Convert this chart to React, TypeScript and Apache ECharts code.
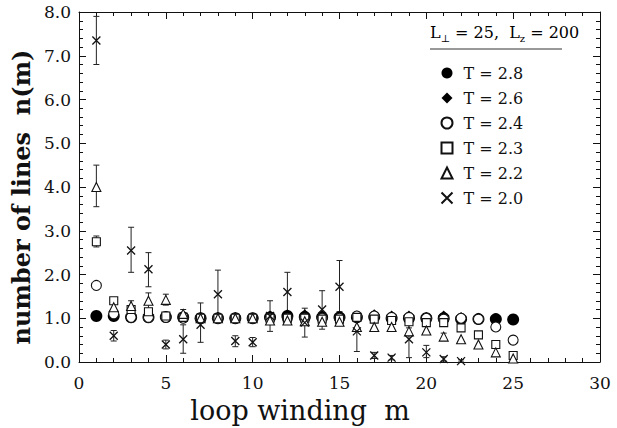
import React, { useEffect, useRef } from "react";
import * as echarts from "echarts";

const mValues = [1, 2, 3, 4, 5, 6, 7, 8, 9, 10, 11, 12, 13, 14, 15, 16, 17, 18, 19, 20, 21, 22, 23, 24, 25];

const t28 = [1.05, 1.05, 1.02, 1.02, 1.03, 1.02, 1.0, 1.0, 1.0, 1.0, 1.02, 1.05, 1.03, 1.02, 1.02, 1.02, 1.03, 1.0, 1.0, 1.0, 1.0, 0.98, 0.98, 0.98, 0.97];
const t26 = [1.05, 1.05, 1.03, 1.03, 1.03, 1.03, 1.02, 1.02, 1.02, 1.0, 1.05, 1.08, 1.08, 1.05, 1.03, 1.05, 1.08, 1.05, 1.05, 1.02, 1.05, 1.02, 1.0];
const t24 = [1.75, 1.1, 1.02, 1.02, 1.02, 1.0, 1.0, 1.0, 1.0, 1.0, 1.0, 1.0, 1.0, 1.0, 1.0, 1.05, 1.05, 1.02, 1.02, 1.0, 0.98, 1.0, 0.98, 0.8, 0.5];
const t23 = [2.75, 1.4, 1.2, 1.15, 1.05, 1.02, 1.0, 1.0, 1.0, 1.0, 1.0, 1.0, 1.0, 0.98, 0.98, 1.02, 0.98, 0.95, 0.92, 0.9, 0.9, 0.78, 0.62, 0.4, 0.15];
const t22 = [4.0, 1.25, 1.28, 1.4, 1.42, 1.1, 1.0, 1.0, 1.0, 1.0, 0.95, 0.95, 0.93, 0.92, 0.92, 0.8, 0.8, 0.8, 0.7, 0.72, 0.58, 0.52, 0.4, 0.22, 0.08];
const t20 = [7.35, 0.6, 2.55, 2.12, 0.4, 0.52, 0.85, 1.55, 0.48, 0.45, 1.05, 1.6, 0.9, 1.2, 1.72, 0.7, 0.15, 0.1, 0.52, 0.22, 0.07, 0.02];

const t20ErrLow = [6.8, 0.48, 2.05, 1.72, 0.3, 0.2, 0.45, 1.05, 0.35, 0.35, 0.7, 1.05, 0.57, 0.75, 1.15, 0.24, 0.08, 0.05, 0.1, 0.1, 0.02, 0.0];
const t20ErrHigh = [7.9, 0.72, 3.08, 2.5, 0.5, 0.85, 1.35, 2.1, 0.6, 0.56, 1.4, 2.05, 1.23, 1.63, 2.32, 1.12, 0.22, 0.15, 0.85, 0.38, 0.12, 0.05];

const t22ErrM = [1, 3, 4, 5, 6, 19, 21];
const t22ErrLow = [3.55, 1.15, 1.2, 1.3, 1.0, 0.62, 0.5];
const t22ErrHigh = [4.5, 1.4, 1.58, 1.55, 1.2, 0.78, 0.66];

const t23ErrM = [1];
const t23ErrLow = [2.63];
const t23ErrHigh = [2.88];

const xTicks = [0, 5, 10, 15, 20, 25, 30];
const yTicks = [0, 1, 2, 3, 4, 5, 6, 7, 8];

const seriesNames = ["T = 2.8", "T = 2.6", "T = 2.4", "T = 2.3", "T = 2.2", "T = 2.0"];

const FONT = "'DejaVu Serif', 'Liberation Serif', serif";
const CROSS = "path://M0,0L10,10M0,10L10,0";

function pairs(vals: number[]) {
  return vals.map((v, i) => [mValues[i], v]);
}

export default function App() {
  const ref = useRef<HTMLDivElement>(null);
  useEffect(() => {
    if (!ref.current) return;
    const chart = echarts.init(ref.current, undefined, { renderer: "svg" });

    const errData: number[][] = [];
    t20ErrLow.forEach((lo, i) => errData.push([mValues[i], lo, t20ErrHigh[i]]));
    t22ErrM.forEach((m, i) => errData.push([m, t22ErrLow[i], t22ErrHigh[i]]));
    t23ErrM.forEach((m, i) => errData.push([m, t23ErrLow[i], t23ErrHigh[i]]));

    const axisCommon = {
      min: 0,
      axisLine: { show: true, onZero: false, lineStyle: { color: "#111", width: 1 } },
      axisTick: { show: true, inside: true, length: 7, lineStyle: { color: "#111" } },
      minorTick: { show: true, splitNumber: 5, length: 4, lineStyle: { color: "#111" } },
      splitLine: { show: false },
    };

    const openStyle = { color: "#fff", borderColor: "#111", borderWidth: 1.1, opacity: 1 };

    chart.setOption({
      animation: false,
      backgroundColor: "#fff",
      grid: { left: 79, right: 17, top: 12, bottom: 66 },
      xAxis: [
        {
          ...axisCommon,
          type: "value",
          max: 30,
          interval: 5,
          position: "bottom",
          axisLabel: {
            fontFamily: FONT,
            fontSize: 17,
            color: "#111",
            margin: 12,
            formatter: (v: number) => (xTicks.includes(v) ? String(v) : ""),
          },
        },
        {
          ...axisCommon,
          type: "value",
          max: 30,
          interval: 5,
          position: "top",
          axisLabel: { show: false },
        },
      ],
      yAxis: [
        {
          ...axisCommon,
          type: "value",
          max: 8,
          interval: 1,
          position: "left",
          name: "number of lines  n(m)",
          nameLocation: "middle",
          nameGap: 46,
          nameTextStyle: { fontFamily: FONT, fontSize: 24, fontWeight: "bold", color: "#111", padding: [0, 20, 0, 0] },
          axisLabel: {
            fontFamily: FONT,
            fontSize: 17,
            color: "#111",
            margin: 8,
            formatter: (v: number) => (yTicks.includes(v) ? v.toFixed(1) : ""),
          },
        },
        {
          ...axisCommon,
          type: "value",
          max: 8,
          interval: 1,
          position: "right",
          axisLabel: { show: false },
        },
      ],
      legend: {
        data: seriesNames,
        orient: "vertical",
        left: 434,
        top: 60,
        itemWidth: 11,
        itemHeight: 11,
        itemGap: 9,
        textStyle: { fontFamily: FONT, fontSize: 16, color: "#111", padding: [0, 0, 0, 6] },
        selectedMode: false,
      },
      graphic: [
        {
          type: "text",
          x: 300,
          y: 410,
          style: {
            text: "loop winding  m",
            fontFamily: FONT,
            fontSize: 27,
            fill: "#111",
            align: "center",
            verticalAlign: "middle",
          },
        },
        {
          type: "text",
          left: 430,
          top: 24,
          style: {
            text: "{a|L}{s|⊥}{a| = 25,  L}{s|z}{a| = 200}",
            rich: {
              a: { fontFamily: FONT, fontSize: 16, color: "#111", lineHeight: 22, verticalAlign: "middle" },
              s: { fontFamily: FONT, fontSize: 10, color: "#111", lineHeight: 22, verticalAlign: "bottom" },
            },
          },
        },
        {
          type: "line",
          shape: { x1: 430, y1: 49, x2: 562, y2: 49 },
          style: { stroke: "#333", lineWidth: 1 },
        },
      ],
      series: [
        {
          type: "custom",
          name: "err",
          z: 1,
          data: errData,
          renderItem: (params: any, api: any) => {
            const x = api.value(0);
            const lo = api.value(1);
            const hi = api.value(2);
            const p1 = api.coord([x, lo]);
            const p2 = api.coord([x, hi]);
            const w = 3;
            const st = { stroke: "#222", lineWidth: 1 };
            return {
              type: "group",
              children: [
                { type: "line", shape: { x1: p1[0], y1: p1[1], x2: p2[0], y2: p2[1] }, style: st },
                { type: "line", shape: { x1: p1[0] - w, y1: p1[1], x2: p1[0] + w, y2: p1[1] }, style: st },
                { type: "line", shape: { x1: p2[0] - w, y1: p2[1], x2: p2[0] + w, y2: p2[1] }, style: st },
              ],
            };
          },
        },
        {
          type: "scatter",
          name: seriesNames[0],
          z: 2,
          symbol: "circle",
          symbolSize: 12,
          itemStyle: { color: "#000", borderColor: "#000", borderWidth: 0, opacity: 1 },
          data: pairs(t28),
        },
        {
          type: "scatter",
          name: seriesNames[1],
          z: 3,
          symbol: "diamond",
          symbolSize: 11,
          itemStyle: { color: "#000", borderColor: "#000", borderWidth: 0, opacity: 1 },
          data: pairs(t26),
        },
        {
          type: "scatter",
          name: seriesNames[2],
          z: 4,
          symbol: "circle",
          symbolSize: 10,
          itemStyle: openStyle,
          data: pairs(t24),
        },
        {
          type: "scatter",
          name: seriesNames[3],
          z: 5,
          symbol: "rect",
          symbolSize: 8,
          itemStyle: openStyle,
          data: pairs(t23),
        },
        {
          type: "scatter",
          name: seriesNames[4],
          z: 6,
          symbol: "triangle",
          symbolSize: 9,
          itemStyle: openStyle,
          data: pairs(t22),
        },
        {
          type: "scatter",
          name: seriesNames[5],
          z: 7,
          symbol: CROSS,
          symbolSize: 8,
          itemStyle: { color: "none", borderColor: "#111", borderWidth: 1.3, opacity: 1 },
          data: pairs(t20),
        },
      ],
    });
    return () => chart.dispose();
  }, []);
  return (
    <div
      ref={ref}
      style={{ position: "fixed", left: 0, top: 0, width: 617, height: 428 }}
    />
  );
}
